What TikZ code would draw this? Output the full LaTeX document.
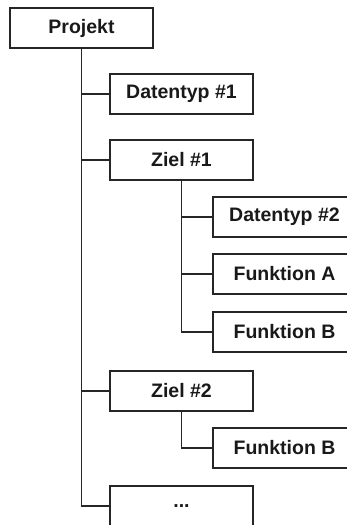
\documentclass[tikz,border=0pt]{standalone}
\usepackage{fontspec}
\setmainfont{Liberation Sans}
\begin{document}
\begin{tikzpicture}[x=1pt,y=-1pt,
  box/.style={draw=black!85,line width=1.1pt,fill=white,minimum width=143pt,minimum height=40pt,inner sep=0pt,
    font=\fontsize{19.5}{22}\selectfont\bfseries,text=black!90},
  conn/.style={draw=black!85,line width=1.1pt}]
\useasboundingbox (0,0) rectangle (347,525);
\clip (0,0) rectangle (347,525);
\node[box] (proj) at (81.5,28) {Projekt};
\node[box] (dt1) at (181.5,94) {Datentyp \#1};
\node[box] (z1) at (181.5,160) {Ziel \#1};
\node[box] (dt2) at (284.5,217) {Datentyp \#2};
\node[box] (fa) at (284.5,274) {Funktion A};
\node[box] (fb) at (284.5,332) {Funktion B};
\node[box] (z2) at (181.5,391) {Ziel \#2};
\node[box] (fb2) at (284.5,448) {Funktion B};
\node[box] (dots) at (181.5,506) {...};
\draw[conn] (proj.south) -- (proj.south |- dots.west) -- (dots.west);
\draw[conn] (proj.south |- dt1.west) -- (dt1.west);
\draw[conn] (proj.south |- z1.west) -- (z1.west);
\draw[conn] (proj.south |- z2.west) -- (z2.west);
\draw[conn] (z1.south) -- (z1.south |- fb.west) -- (fb.west);
\draw[conn] (z1.south |- dt2.west) -- (dt2.west);
\draw[conn] (z1.south |- fa.west) -- (fa.west);
\draw[conn] (z2.south) -- (z2.south |- fb2.west) -- (fb2.west);
\end{tikzpicture}
\end{document}
